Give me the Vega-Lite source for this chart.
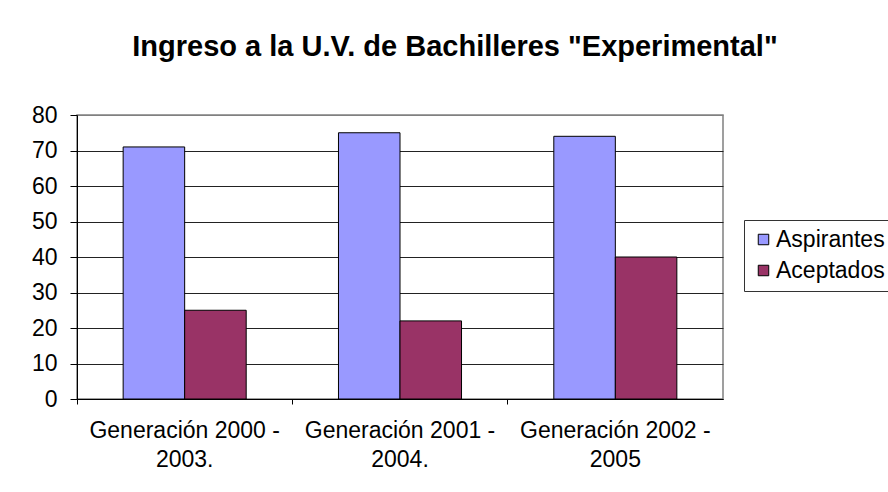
{
  "$schema": "https://vega.github.io/schema/vega-lite/v6.json",
  "width": 646,
  "height": 284,
  "autosize": {"type": "none"},
  "padding": {"left": 77, "top": 115, "right": 165, "bottom": 93},
  "background": "white",
  "title": {
    "text": "Ingreso a la U.V. de Bachilleres \"Experimental\"",
    "font": "Liberation Sans",
    "fontSize": 29,
    "fontWeight": "bold",
    "color": "black",
    "anchor": "middle",
    "dx": 55,
    "offset": 42
  },
  "data": {
    "values": [
      {"gen": "Generación 2000 - 2003.", "serie": "Aspirantes", "valor": 71},
      {"gen": "Generación 2000 - 2003.", "serie": "Aceptados", "valor": 25},
      {"gen": "Generación 2001 - 2004.", "serie": "Aspirantes", "valor": 75},
      {"gen": "Generación 2001 - 2004.", "serie": "Aceptados", "valor": 22},
      {"gen": "Generación 2002 - 2005", "serie": "Aspirantes", "valor": 74},
      {"gen": "Generación 2002 - 2005", "serie": "Aceptados", "valor": 40}
    ]
  },
  "mark": {"type": "bar", "stroke": "black", "strokeWidth": 1},
  "encoding": {
    "x": {
      "field": "gen",
      "type": "nominal",
      "sort": null,
      "scale": {"paddingInner": 0, "paddingOuter": 0},
      "axis": {
        "title": null,
        "labelAngle": 0,
        "bandPosition": 0,
        "labelExpr": "[slice(datum.label, 0, 17), slice(datum.label, 18)]",
        "labelFont": "Liberation Sans",
        "labelFontSize": 23,
        "labelLineHeight": 29,
        "labelColor": "black",
        "labelPadding": 15,
        "labelOverlap": false,
        "labelBound": false,
        "labelLimit": 0,
        "tickSize": 5,
        "tickColor": "black",
        "domainColor": "black",
        "grid": false
      }
    },
    "xOffset": {
      "field": "serie",
      "type": "nominal",
      "sort": ["Aspirantes", "Aceptados"],
      "scale": {"paddingInner": 0, "paddingOuter": 0.75}
    },
    "y": {
      "field": "valor",
      "type": "quantitative",
      "scale": {"domain": [0, 80]},
      "axis": {
        "title": null,
        "values": [0, 10, 20, 30, 40, 50, 60, 70, 80],
        "labelFont": "Liberation Sans",
        "labelFontSize": 23,
        "labelColor": "black",
        "labelPadding": 13,
        "tickSize": 7,
        "tickColor": "black",
        "domainColor": "black",
        "grid": true,
        "gridColor": {"condition": {"test": "datum.value === 80", "value": "#808080"}, "value": "#222222"},
        "gridOpacity": 1
      }
    },
    "color": {
      "field": "serie",
      "type": "nominal",
      "sort": ["Aspirantes", "Aceptados"],
      "scale": {"domain": ["Aspirantes", "Aceptados"], "range": ["#9999FF", "#993366"]},
      "legend": {
        "title": null,
        "orient": "none",
        "legendX": 667,
        "legendY": 105,
        "padding": 8,
        "strokeColor": "#333333",
        "fillColor": "white",
        "symbolType": "square",
        "symbolSize": 110,
        "symbolStrokeColor": "black",
        "symbolStrokeWidth": 1,
        "symbolOpacity": 1,
        "labelFont": "Liberation Sans",
        "labelFontSize": 23,
        "labelColor": "black",
        "labelOffset": 1,
        "rowPadding": 7,
        "labelLimit": 0
      }
    }
  },
  "config": {
    "view": {"stroke": "#808080", "strokeWidth": 1.5},
    "axis": {"domainWidth": 1, "tickWidth": 1, "gridWidth": 1}
  }
}
